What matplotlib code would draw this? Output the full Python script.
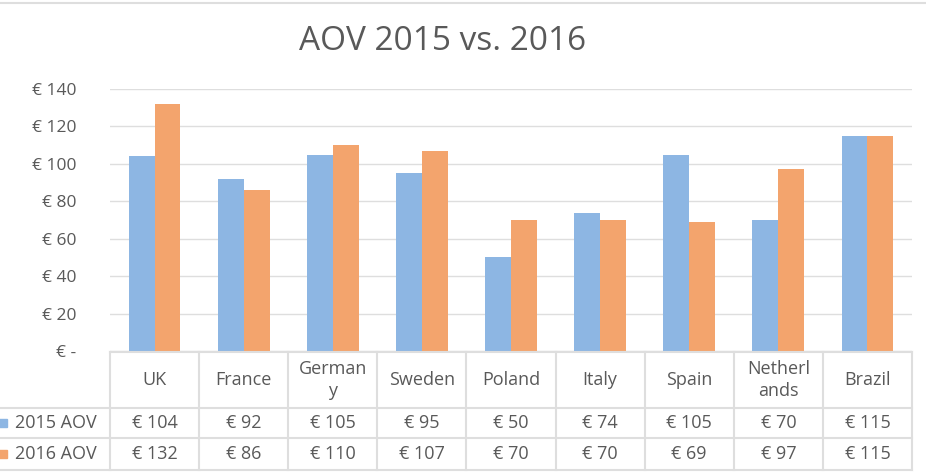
import numpy as np
import matplotlib.pyplot as plt

# data
countries = ["UK", "France", "German\ny", "Sweden", "Poland", "Italy", "Spain", "Netherl\nands", "Brazil"]
aov_2015 = [104, 92, 105, 95, 50, 74, 105, 70, 115]
aov_2016 = [132, 86, 110, 107, 70, 70, 69, 97, 115]
series_names = ["2015 AOV", "2016 AOV"]
y_ticks = [0, 20, 40, 60, 80, 100, 120, 140]

blue = "#8DB6E3"
orange = "#F3A46D"
grid_c = "#DEDEDE"
text_c = "#595959"

plt.rcParams["font.family"] = ["Open Sans", "DejaVu Sans"]

W, H = 926, 476
fig = plt.figure(figsize=(W / 100, H / 100), dpi=100)

# plot area in pixels
left, right, top, bottom = 110, 912, 89, 351
ax = fig.add_axes([left / W, (H - bottom) / H, (right - left) / W, (bottom - top) / H])

x = np.arange(len(countries))
w = 0.29
ax.bar(x - w / 2, aov_2015, width=w, color=blue, zorder=3)
ax.bar(x + w / 2, aov_2016, width=w, color=orange, zorder=3)

ax.set_xlim(-0.5, len(countries) - 0.5)
ax.set_ylim(0, 140)
ax.set_yticks(y_ticks)
ax.set_yticklabels(["€ -" if v == 0 else f"€ {v}" for v in y_ticks], color=text_c, fontsize=12.5)
ax.tick_params(axis="y", length=0, pad=24)
ax.set_xticks([])
ax.grid(axis="y", color=grid_c, linewidth=1, zorder=0)
for s in ax.spines.values():
    s.set_visible(False)

fig.text(443 / W, 1 - 42 / H, "AOV 2015 vs. 2016", ha="center", va="center",
         fontsize=24, color=text_c)

# data table under the chart
tb = fig.add_axes([left / W, (H - 470) / H, (right - left) / W, (470 - 352) / H])
tb.set_xlim(-0.5, len(countries) - 0.5)
tb.set_ylim(118, 0)
tb.axis("off")

col_w = (right - left) / len(countries)
x_edge = -0.5 - left / col_w  # figure left edge in data units
row_y = [0, 56, 86, 118]

tb.plot([-0.5, len(countries) - 0.5], [0, 0], color=grid_c, lw=1.5, clip_on=False)
for yy in row_y[1:]:
    tb.plot([x_edge, len(countries) - 0.5], [yy, yy], color=grid_c, lw=1.5, clip_on=False)
for xx in np.arange(len(countries) + 1) - 0.5:
    tb.plot([xx, xx], [0, 118], color=grid_c, lw=1.5, clip_on=False)

fs = 13
for i, c in enumerate(countries):
    tb.text(i, 28, c, ha="center", va="center", fontsize=fs, color=text_c, linespacing=1.3)
    tb.text(i, 71, f"€ {aov_2015[i]}", ha="center", va="center", fontsize=fs, color=text_c)
    tb.text(i, 102, f"€ {aov_2016[i]}", ha="center", va="center", fontsize=fs, color=text_c)

for name, col, yy in zip(series_names, [blue, orange], [71, 102]):
    tb.plot([x_edge + 3 / col_w], [yy], marker="s", ms=6, color=col, clip_on=False)
    tb.text(x_edge + 15 / col_w, yy, name, ha="left", va="center", fontsize=fs, color=text_c)

# chart border at the top
fig.add_artist(plt.Line2D([0, 1], [1 - 3 / H, 1 - 3 / H], color=grid_c, lw=1.5))

fig.savefig("out.png", dpi=100)
